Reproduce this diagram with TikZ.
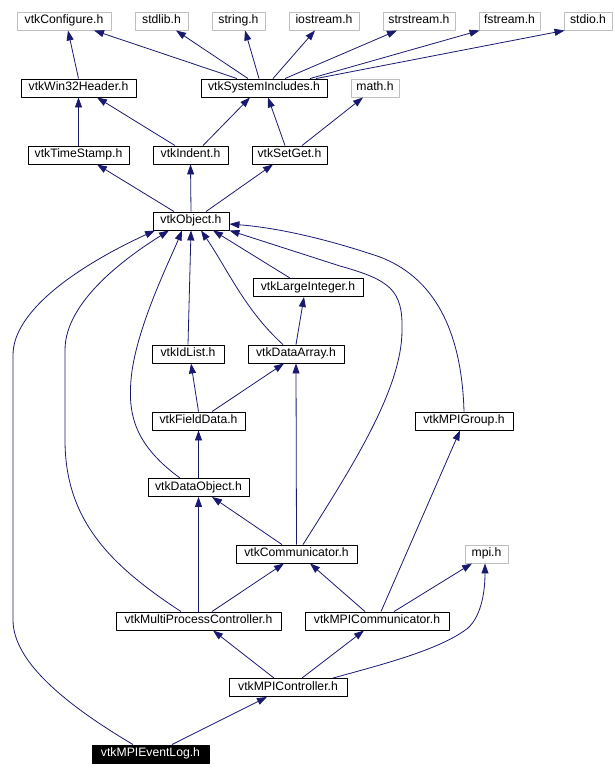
\documentclass[tikz,border=0pt]{standalone}
\usepackage{fontspec}
\setmainfont{Liberation Sans}
\usetikzlibrary{calc,arrows.meta,positioning}
\definecolor{edgeblue}{HTML}{191970}
\definecolor{extgray}{HTML}{BFBFBF}
\tikzset{
  hdr/.style={draw=black,line width=0.9pt,rectangle,minimum height=18pt,inner sep=0pt,
    text height=8pt,text depth=2.6pt,font=\fontsize{12.2}{14}\selectfont},
  ext/.style={hdr,draw=extgray},
  cur/.style={hdr,fill=black,text=white},
  dep/.style={draw=edgeblue,line width=0.8pt,-{Triangle[length=10pt,width=7pt]}}
}

\begin{document}
\begin{tikzpicture}[x=1pt,y=-1pt,line join=round]
  \useasboundingbox (0,0) rectangle (614,776);
  % system headers
  \node[ext,minimum width=94pt] (config) at (64,21) {vtkConfigure.h};
  \node[ext,minimum width=53pt] (stdlib) at (161.5,21) {stdlib.h};
  \node[ext,minimum width=53pt] (string) at (238.5,21) {string.h};
  \node[ext,minimum width=70pt] (iostream) at (324,21) {iostream.h};
  \node[ext,minimum width=72pt] (strstream) at (419,21) {strstream.h};
  \node[ext,minimum width=61pt] (fstream) at (509.5,21) {fstream.h};
  \node[ext,minimum width=48pt] (stdio) at (588,21) {stdio.h};
  \node[hdr,minimum width=115pt] (win32) at (78.5,88) {vtkWin32Header.h};
  \node[hdr,minimum width=126pt] (sysinc) at (264,88) {vtkSystemIncludes.h};
  \node[ext,minimum width=48pt] (math) at (375,88) {math.h};
  \node[hdr,minimum width=101pt] (tstamp) at (78.5,155) {vtkTimeStamp.h};
  \node[hdr,minimum width=75pt] (indent) at (190.5,155) {vtkIndent.h};
  \node[hdr,minimum width=75pt] (setget) at (289.5,155) {vtkSetGet.h};
  \node[hdr,minimum width=76pt] (object) at (191,221) {vtkObject.h};
  % common
  \node[hdr,minimum width=110pt] (largeint) at (308,287.5) {vtkLargeInteger.h};
  \node[hdr,minimum width=72pt] (idlist) at (188,354) {vtkIdList.h};
  \node[hdr,minimum width=96pt] (darray) at (296,354) {vtkDataArray.h};
  \node[hdr,minimum width=93pt] (fdata) at (198.5,421) {vtkFieldData.h};
  \node[hdr,minimum width=98pt] (mpigroup) at (464,421) {vtkMPIGroup.h};
  \node[hdr,minimum width=101pt] (dobject) at (198.5,487.5) {vtkDataObject.h};
  \node[hdr,minimum width=121pt] (comm) at (296.5,554) {vtkCommunicator.h};
  \node[ext,minimum width=43pt] (mpi) at (486.5,554) {mpi.h};
  \node[hdr,minimum width=165pt] (mpc) at (198.5,621) {vtkMultiProcessController.h};
  \node[hdr,minimum width=144pt] (mpicomm) at (377,621) {vtkMPICommunicator.h};
  \node[hdr,minimum width=118pt] (mpictrl) at (288,687.5) {vtkMPIController.h};
  \node[cur,minimum width=117pt] (evlog) at (150.5,754) {vtkMPIEventLog.h};

  % includes of vtkSystemIncludes.h
  \draw[dep] ([xshift=-27pt]sysinc.north) -- ([xshift=30pt]config.south);
  \draw[dep] ([xshift=-16pt]sysinc.north) -- ([xshift=14.5pt]stdlib.south);
  \draw[dep] ([xshift=-5pt]sysinc.north) -- ([xshift=6.5pt]string.south);
  \draw[dep] ([xshift=9pt]sysinc.north) -- ([xshift=-9pt]iostream.south);
  \draw[dep] ([xshift=21pt]sysinc.north) -- ([xshift=-22pt]strstream.south);
  \draw[dep] ([xshift=46pt]sysinc.north) -- ([xshift=1pt]fstream.south west);
  \draw[dep] ([xshift=52pt]sysinc.north) -- ([xshift=1pt]stdio.south west);
  \draw[dep] (win32.north) -- ([xshift=4pt]config.south);
  % third row
  \draw[dep] (tstamp.north) -- (win32.south);
  \draw[dep] ([xshift=-15.5pt]indent.north) -- ([xshift=18.5pt]win32.south);
  \draw[dep] ([xshift=12.5pt]indent.north) -- ([xshift=-14pt]sysinc.south);
  \draw[dep] ([xshift=-4.5pt]setget.north) -- ([xshift=4pt]sysinc.south);
  \draw[dep] ([xshift=12.5pt]setget.north) -- ([xshift=-12pt]math.south);
  % vtkObject.h
  \draw[dep] ([xshift=-17pt]object.north) -- ([xshift=18.5pt]tstamp.south);
  \draw[dep] (object.north) -- (indent.south);
  \draw[dep] ([xshift=15pt]object.north) -- ([xshift=-16.5pt]setget.south);
  % into vtkObject.h
  \draw[dep] ([xshift=-17.5pt]evlog.north) .. controls (75,710) and (13,665) .. (13,620)
    -- (13,355) .. controls (13,310) and (80,265) .. ([xshift=-36pt]object.south);
  \draw[dep] ([xshift=-17.5pt]mpc.north) .. controls (110,565) and (65,520) .. (65,440)
    -- (65,350) .. controls (65,300) and (130,255) .. ([xshift=-22pt]object.south);
  \draw[dep] ([xshift=-18.5pt]dobject.north) .. controls (135,445) and (128,415) .. (131,380)
    .. controls (135,330) and (170,260) .. ([xshift=-9pt]object.south);
  \draw[dep] (idlist.north) -- (object.south);
  \draw[dep] ([xshift=-13pt]darray.north) .. controls (245,310) and (228,270) .. ([xshift=10pt]object.south);
  \draw[dep] ([xshift=-18pt]largeint.north) -- ([xshift=22pt]object.south);
  \draw[dep] ([xshift=6.5pt]comm.north) .. controls (350,470) and (402,390) .. (402,330)
    .. controls (403,290) and (390,280) .. (340,266) -- (object.south east);
  \draw[dep] (mpigroup.north) .. controls (462,340) and (440,280) .. (380,257)
    .. controls (330,240) and (280,228) .. ([yshift=-3pt]object.east);
  % lower part
  \draw[dep] (darray.north) -- ([xshift=-4pt]largeint.south);
  \draw[dep] (fdata.north) -- ([xshift=3pt]idlist.south);
  \draw[dep] ([xshift=13.5pt]fdata.north) -- ([xshift=-12pt]darray.south);
  \draw[dep] (dobject.north) -- (fdata.south);
  \draw[dep] (comm.north) -- (darray.south);
  \draw[dep] ([xshift=-14.5pt]comm.north) -- ([xshift=13.5pt]dobject.south);
  \draw[dep] (mpc.north) -- (dobject.south);
  \draw[dep] ([xshift=13.5pt]mpc.north) -- ([xshift=-12.5pt]comm.south);
  \draw[dep] ([xshift=-12pt]mpicomm.north) -- ([xshift=13.5pt]comm.south);
  \draw[dep] ([xshift=4pt]mpicomm.north) -- ([xshift=-4pt]mpigroup.south);
  \draw[dep] ([xshift=17pt]mpicomm.north) -- ([xshift=-14.5pt]mpi.south);
  \draw[dep] ([xshift=-14pt]mpictrl.north) -- ([xshift=14.5pt]mpc.south);
  \draw[dep] ([xshift=14pt]mpictrl.north) -- ([xshift=-13pt]mpicomm.south);
  \draw[dep] ([xshift=45pt]mpictrl.north) .. controls (380,665) and (440,650) .. (468,628)
    .. controls (482,615) and (485,590) .. ([xshift=-1.5pt]mpi.south);
  \draw[dep] ([xshift=21.5pt]evlog.north) -- ([xshift=-21pt]mpictrl.south);
\end{tikzpicture}
\end{document}
